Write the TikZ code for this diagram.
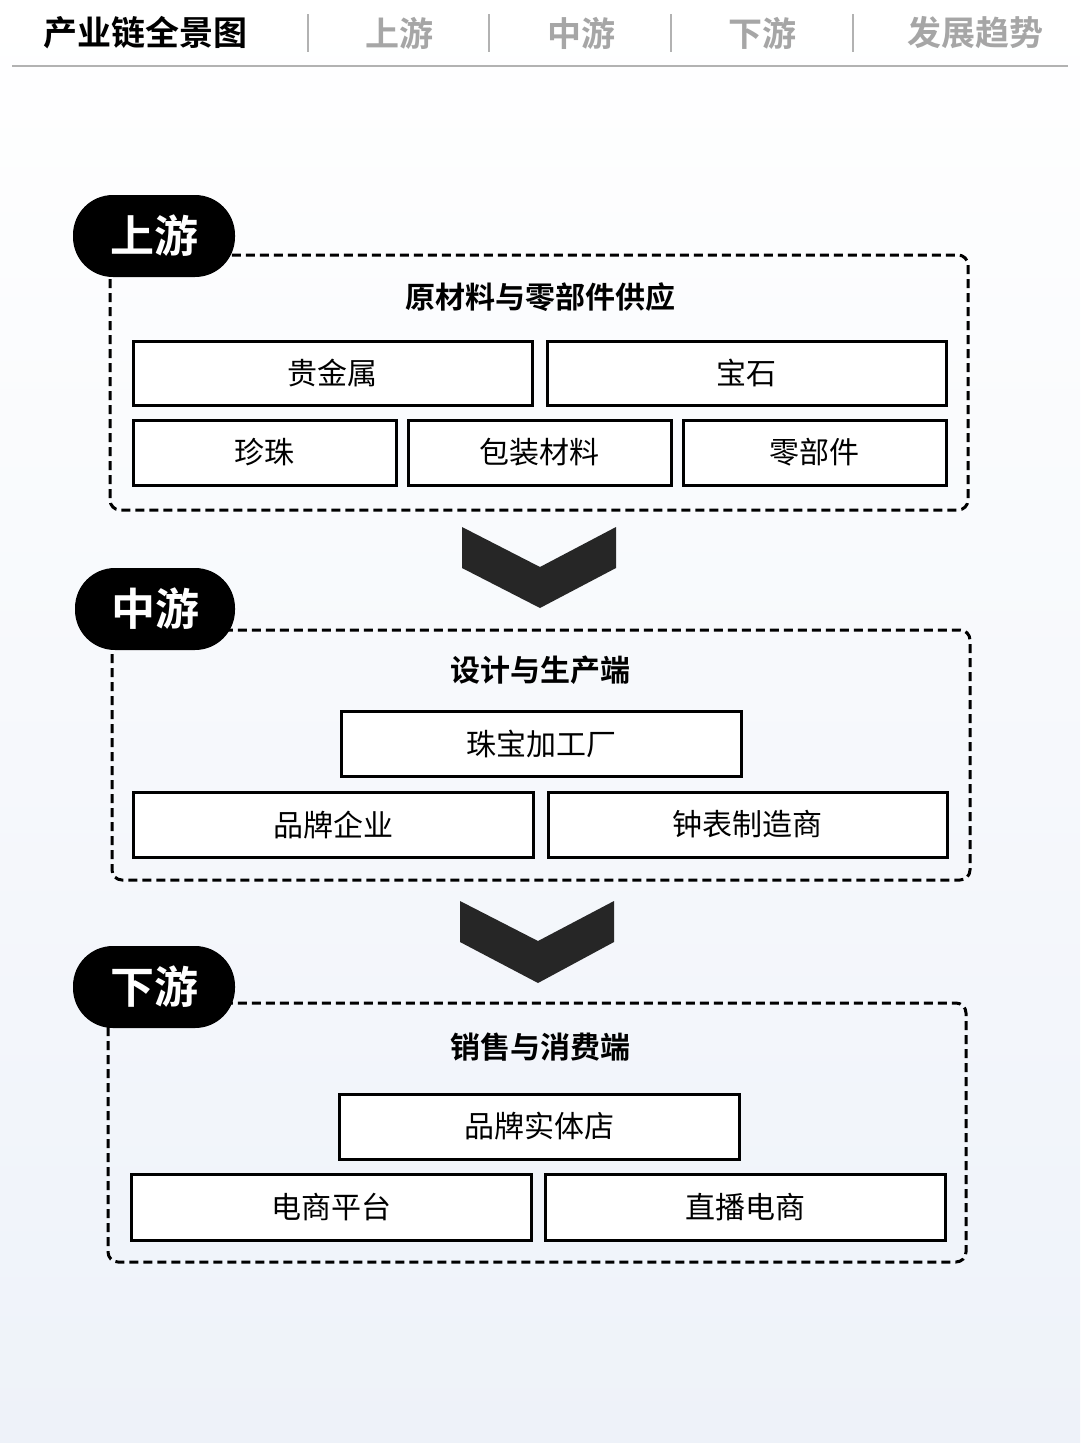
\documentclass[tikz,border=0pt]{standalone}
\usepackage{fontspec}
\setmainfont{Noto Sans CJK SC}
\newfontfamily\cjkb{Noto Sans CJK SC Bold}
\begin{document}
\begin{tikzpicture}[x=1pt,y=-1pt,
 item/.style={draw=black,line width=3pt,fill=white,inner sep=0pt,font=\fontsize{30}{32}\selectfont},
 grp/.style={draw=black,line width=3pt,dash pattern=on 9pt off 5pt,rounded corners=10pt},
 pill/.style={fill=black,rounded corners=40pt,text=white,font=\cjkb\fontsize{44}{46}\selectfont,inner sep=0pt},
 ttl/.style={font=\cjkb\fontsize{30}{32}\selectfont},
 tab/.style={font=\cjkb\fontsize{34}{36}\selectfont,text=black!35},
 chev/.style={fill=black!85}]
\useasboundingbox (0,0) rectangle (1080,1443);
\shade[top color=white,bottom color={rgb,255:red,238;green,242;blue,249}] (0,0) rectangle (1080,1443);
% header
\node[font=\cjkb\fontsize{34}{36}\selectfont] (h0) at (145,33) {产业链全景图};
\node[tab] (h1) at (399,33) {上游};
\node[tab] (h2) at (581,33) {中游};
\node[tab] (h3) at (762,33) {下游};
\node[tab] (h4) at (975,33) {发展趋势};
\foreach \x in {308,489,671,853} \draw[black!30,line width=1.5pt] (\x,14) -- (\x,52);
\draw[black!30,line width=1.5pt] (12,66) -- (1068,66);
% upstream
\draw[grp] (110,255) rectangle (968,510);
\node[pill,minimum width=162pt,minimum height=82pt] (p1) at (154,236) {上游};
\node[ttl] (t1) at (540,297) {原材料与零部件供应};
\node[item,minimum width=399pt,minimum height=64pt] (a1) at (332.5,373) {贵金属};
\node[item,minimum width=399pt,minimum height=64pt] (a2) at (746.5,373) {宝石};
\node[item,minimum width=263pt,minimum height=65pt] (a3) at (264.5,452.5) {珍珠};
\node[item,minimum width=263pt,minimum height=65pt] (a4) at (539.5,452.5) {包装材料};
\node[item,minimum width=263pt,minimum height=65pt] (a5) at (814.5,452.5) {零部件};
\fill[chev] (462,527) -- (540,567) -- (616,527) -- (616,568) -- (540,608) -- (462,568) -- cycle;
% midstream
\draw[grp] (112,630) rectangle (970,880);
\node[pill,minimum width=160pt,minimum height=82pt] (p2) at (155,609) {中游};
\node[ttl] (t2) at (540,670) {设计与生产端};
\node[item,minimum width=400pt,minimum height=65pt] (b1) at (541,743.5) {珠宝加工厂};
\node[item,minimum width=400pt,minimum height=65pt] (b2) at (333,824.5) {品牌企业};
\node[item,minimum width=399pt,minimum height=65pt] (b3) at (747.5,824.5) {钟表制造商};
\fill[chev] (460,901) -- (538,941) -- (614,901) -- (614,942) -- (538,983) -- (460,942) -- cycle;
% downstream
\draw[grp] (108,1003) rectangle (966,1262);
\node[pill,minimum width=162pt,minimum height=82pt] (p3) at (154,987) {下游};
\node[ttl] (t3) at (540,1047) {销售与消费端};
\node[item,minimum width=400pt,minimum height=65pt] (c1) at (539,1126.5) {品牌实体店};
\node[item,minimum width=400pt,minimum height=66pt] (c2) at (331,1207) {电商平台};
\node[item,minimum width=400pt,minimum height=66pt] (c3) at (745,1207) {直播电商};
\end{tikzpicture}
\end{document}
